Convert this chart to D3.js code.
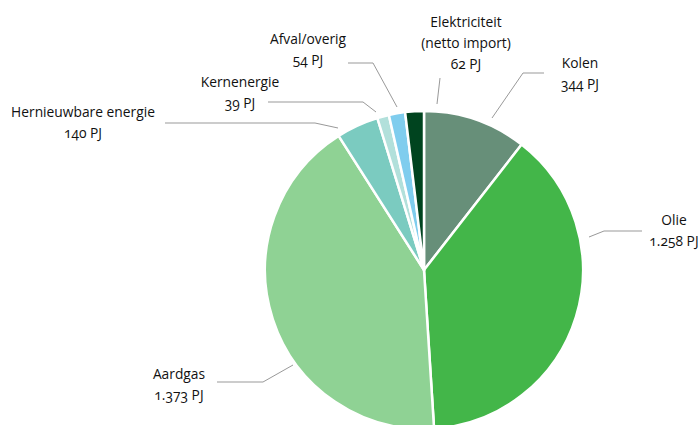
<!DOCTYPE html>
<html>
<head>
<meta charset="utf-8">
<script src="https://cdn.jsdelivr.net/npm/d3@7"></script>
<style>
  body { margin: 0; background: #fff; }
  text { font-family: "Open Sans", "Noto Sans", sans-serif; font-size: 13.8px; fill: #111; font-variant-numeric: oldstyle-nums; }
</style>
</head>
<body>
<div id="chart"></div>
<script>
// data
let categories = ["Kolen", "Olie", "Aardgas", "Hernieuwbare energie", "Kernenergie", "Afval/overig", "Elektriciteit"]
let values = [344, 1258, 1373, 140, 39, 54, 62]
let valueLabels = ["344 PJ", "1.258 PJ", "1.373 PJ", "140 PJ", "39 PJ", "54 PJ", "62 PJ"]
let nameLines = [["Kolen"], ["Olie"], ["Aardgas"], ["Hernieuwbare energie"], ["Kernenergie"], ["Afval/overig"], ["Elektriciteit", "(netto import)"]]
let colors = ["#678f79", "#43b649", "#8fd294", "#7bcbc0", "#b2e0db", "#7fcdee", "#00441f"]

// label layout (text position + connector points)
let labelLayout = [
  { x: 580, y: 68, line: [[492, 118], [523, 73], [544, 73]] },
  { x: 674, y: 225, line: [[589, 237], [604, 231], [642, 231]] },
  { x: 179, y: 379, line: [[293, 365], [263, 382], [217, 382]] },
  { x: 83, y: 117, line: [[338, 128], [315, 123], [165, 123]] },
  { x: 240, y: 87, line: [[376, 112], [363, 102], [268, 102]] },
  { x: 308, y: 44, line: [[397, 107], [373, 63], [348, 63]] },
  { x: 466, y: 27, line: [[437, 104], [440, 78]] },
]

let svg = d3.select("#chart")
  .append("svg")
  .attr("width", 698)
  .attr("height", 425)

let cx = 424, cy = 270, radius = 159

let pie = d3.pie().sort(null).value(d => d.value)
let arc = d3.arc().innerRadius(0).outerRadius(radius)

let rows = categories.map((c, i) => ({ name: c, value: values[i], color: colors[i] }))

let g = svg.append("g").attr("transform", `translate(${cx},${cy})`)

g.selectAll("path")
  .data(pie(rows))
  .enter()
  .append("path")
  .attr("d", arc)
  .attr("fill", d => d.data.color)
  .attr("stroke", "#fff")
  .attr("stroke-width", 2.5)
  .attr("stroke-linejoin", "round")

// verbindingslijnen
svg.selectAll("polyline")
  .data(labelLayout)
  .enter()
  .append("polyline")
  .attr("points", d => d.line.map(p => p.join(",")).join(" "))
  .attr("fill", "none")
  .attr("stroke", "#999")
  .attr("stroke-width", 1)

// labels
labelLayout.forEach((l, i) => {
  let lines = nameLines[i].concat([valueLabels[i]])
  let t = svg.append("text")
    .attr("text-anchor", "middle")
  lines.forEach((s, j) => {
    t.append("tspan")
      .attr("x", l.x)
      .attr("y", l.y + j * 21)
      .text(s)
  })
})
</script>
</body>
</html>
